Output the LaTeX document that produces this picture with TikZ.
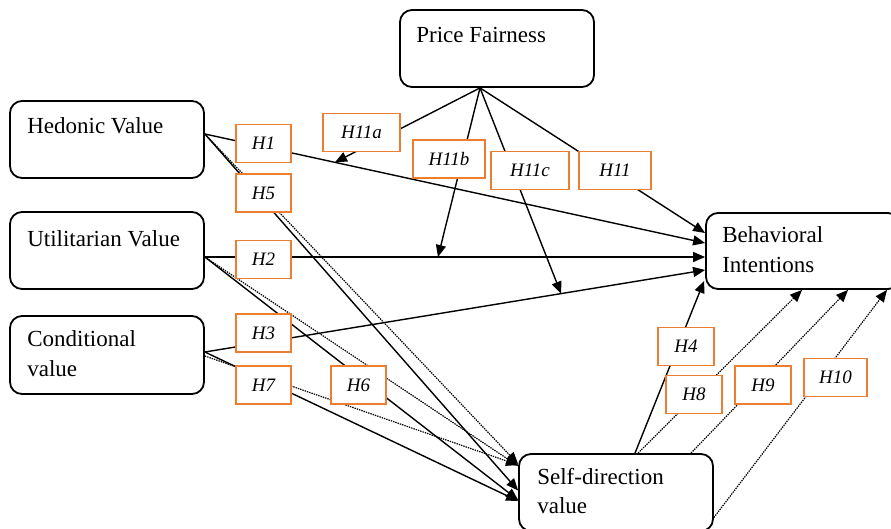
\documentclass[tikz,border=0pt]{standalone}
\usepackage{fontspec}
\setmainfont{Liberation Serif}
\usetikzlibrary{positioning,calc,arrows.meta}
\definecolor{myorange}{RGB}{237,125,49}
\tikzstyle{construct}=[draw, rounded corners=12pt, line width=1.8pt, minimum width=194pt, minimum height=77pt, inner sep=0pt]
\tikzstyle{construct text}=[align=left, inner sep=0pt, font=\fontsize{23}{29.5}\selectfont]
\tikzstyle{hyp}=[draw=myorange, line width=1.8pt, fill=white, minimum width=55pt, minimum height=38pt, inner sep=0pt, font=\fontsize{19}{22}\selectfont\itshape]
\tikzstyle{link}=[line width=1.4pt, -{Triangle[length=12pt,width=10pt]}]
\tikzstyle{link dotted}=[link, densely dotted, line width=1.2pt]

\begin{document}
\begin{tikzpicture}[x=1pt, y=-1pt]
\useasboundingbox (0,0) rectangle (891,528);
\clip (0,0) rectangle (891,528);

% constructs
\node[construct] (pf) at (497,48.5) {};
\node[construct] (hv) at (107,139.5) {};
\node[construct] (uv) at (107,250.5) {};
\node[construct, minimum height=78pt] (cv) at (107,355) {};
\node[construct, minimum height=76pt] (bi) at (803,251) {};
\node[construct] (sd) at (616,492.5) {};

\node[construct text, below right=17.5pt and 17pt of pf.north west] {Price Fairness};
\node[construct text, below right=17.5pt and 18pt of hv.north west] {Hedonic Value};
\node[construct text, below right=19.5pt and 18pt of uv.north west] {Utilitarian Value};
\node[construct text, below right=15.5pt and 18pt of cv.north west] {Conditional\\value};
\node[construct text, below right=14.5pt and 17pt of bi.north west] {Behavioral\\Intentions};
\node[construct text, below right=14.5pt and 19pt of sd.north west] {Self-direction\\value};

% end points on the boxes
\coordinate (hv out) at ([yshift=5.5]hv.east);
\coordinate (uv out) at ([yshift=-6.5]uv.east);
\coordinate (cv out) at ([yshift=3]cv.east);
\coordinate (bi hv) at ([yshift=8]bi.west);
\coordinate (bi uv) at ([yshift=-6]bi.west);
\coordinate (bi cv) at ([yshift=-19]bi.west);
\coordinate (pf out) at ([xshift=-17]pf.south);

% direct effects
\draw[link] (hv out) -- (bi hv);
\draw[link] (uv out) -- (bi uv);
\draw[link] (cv out) -- (bi cv);
\draw[link] ([xshift=19]sd.north) -- ([xshift=-1,yshift=9]bi.south west);

\draw[link] (hv out) -- ([yshift=2]sd.west);
\draw[link dotted] (hv out) -- ([yshift=28.5]sd.west);
\draw[link] (uv out) -- ([yshift=-7.5]sd.west);
\draw[link dotted] (uv out) -- ([yshift=26.5]sd.west);
\draw[link] (cv out) -- ([yshift=-8.5]sd.west);
\draw[link dotted] ([yshift=-1]cv.east) -- ([yshift=27.5]sd.west);

\draw[link dotted] ([xshift=22]sd.north) -- ([xshift=-1]bi.south);
\draw[link dotted] ([xshift=75]sd.north) -- ([xshift=45]bi.south);
\draw[link dotted] ([yshift=-25]sd.east) -- ([xshift=84]bi.south);

% moderation by price fairness
\draw[link] (pf out) -- ($(hv out)!0.26!(bi hv)$);
\draw[link] (pf out) -- ($(uv out)!0.466!(bi uv)$);
\draw[link] (pf out) -- ($(cv out)!0.712!(bi cv)$);
\draw[link] (pf out) -- ([yshift=18]bi.west);

% hypothesis labels
\node[hyp] (h1) at (263.5,143.5) {H1};
\node[hyp] (h5) at (263.5,193) {H5};
\node[hyp] (h2) at (263.5,259.5) {H2};
\node[hyp] (h3) at (263.5,333) {H3};
\node[hyp] (h7) at (263.5,385) {H7};
\node[hyp] (h6) at (358.5,385) {H6};
\node[hyp, minimum width=77pt] (h11a) at (361.5,132.5) {H11a};
\node[hyp, minimum width=72pt] (h11b) at (449,159) {H11b};
\node[hyp, minimum width=78pt] (h11c) at (530,170.5) {H11c};
\node[hyp, minimum width=72pt] (h11) at (615,170.5) {H11};
\node[hyp, minimum width=56pt] (h4) at (686,346.5) {H4};
\node[hyp, minimum width=56pt] (h8) at (694,394.5) {H8};
\node[hyp, minimum width=56pt] (h9) at (763,385) {H9};
\node[hyp, minimum width=63pt] (h10) at (835.5,377.5) {H10};

\end{tikzpicture}
\end{document}
